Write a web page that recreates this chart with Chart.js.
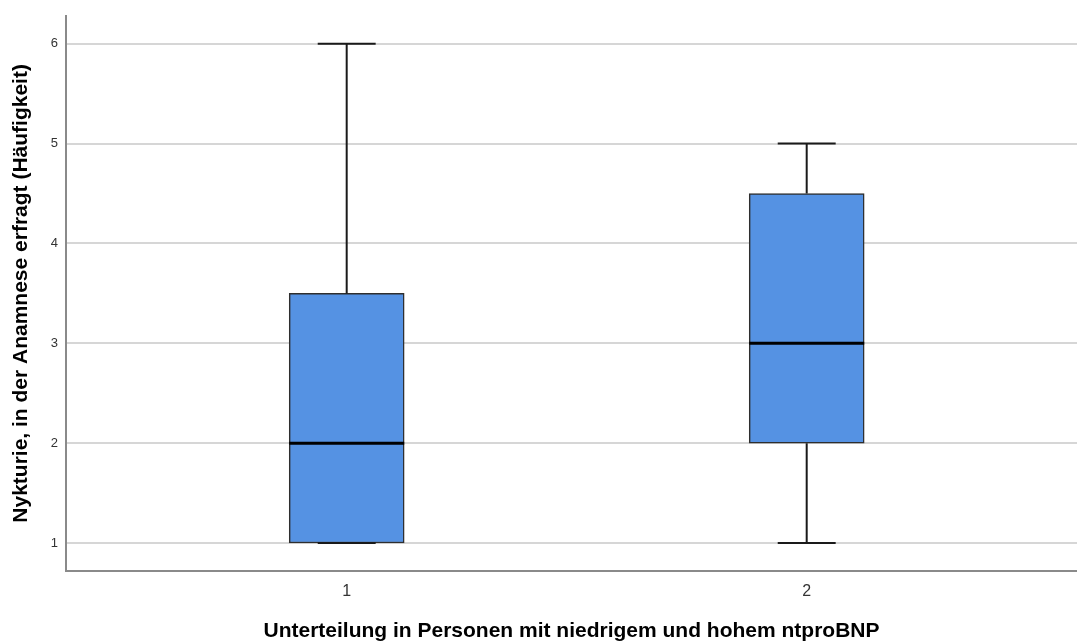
<!DOCTYPE html>
<html>
<head>
<meta charset="utf-8">
<title>Nykturie Boxplot</title>
<script src="https://cdn.jsdelivr.net/npm/chart.js@4"></script>
<style>
  html, body { margin: 0; padding: 0; background: #fff; }
  #wrap { width: 1077px; height: 644px; }
</style>
</head>
<body>
<div id="wrap"><canvas id="boxChart" width="1077" height="644"></canvas></div>
<script>
'use strict';

// groups (ntproBNP niedrig = 1, hoch = 2)
let groups = [1, 2];
let minVals = [1, 1];
let q1Vals = [1, 2];
let medianVals = [2, 3];
let q3Vals = [3.5, 4.5];
let maxVals = [6, 5];

let yTicks = [1, 2, 3, 4, 5, 6];

let xTitle = 'Unterteilung in Personen mit niedrigem und hohem ntproBNP';
let yTitle = 'Nykturie, in der Anamnese erfragt (Häufigkeit)';

// half widths in x units (460 px per unit)
let capHalf = 0.063;
let medHalf = 0.125;

function segments(fromArr, toArr) {
    let pts = [];
    for (let i = 0; i < groups.length; i++) {
        pts.push({ x: groups[i], y: fromArr[i] });
        pts.push({ x: groups[i], y: toArr[i] });
        pts.push({ x: groups[i], y: null });
    }
    return pts;
}

function hLines(valArr, half) {
    let pts = [];
    for (let i = 0; i < groups.length; i++) {
        pts.push({ x: groups[i] - half, y: valArr[i] });
        pts.push({ x: groups[i] + half, y: valArr[i] });
        pts.push({ x: groups[i], y: null });
    }
    return pts;
}

let boxData = groups.map((g, i) => ({ x: g, y: [q1Vals[i], q3Vals[i]] }));

let lineStyle = {
    type: 'line',
    borderColor: '#1a1a1a',
    borderWidth: 2,
    pointRadius: 0,
    spanGaps: false,
    fill: false
};

let ctx = document.getElementById('boxChart').getContext('2d');
let boxChart = new Chart(ctx, {
    type: 'bar',
    data: {
        datasets: [
            Object.assign({}, lineStyle, { label: 'Median', data: hLines(medianVals, medHalf), borderWidth: 3, borderColor: '#000', order: 1 }),
            Object.assign({}, lineStyle, { label: 'Whisker oben', data: segments(q3Vals, maxVals), order: 2 }),
            Object.assign({}, lineStyle, { label: 'Whisker unten', data: segments(minVals, q1Vals), order: 2 }),
            Object.assign({}, lineStyle, { label: 'Max', data: hLines(maxVals, capHalf), order: 2 }),
            Object.assign({}, lineStyle, { label: 'Min', data: hLines(minVals, capHalf), order: 2 }),
            {
                type: 'bar',
                label: 'Box',
                data: boxData,
                backgroundColor: '#5592e3',
                borderColor: '#2e2e2e',
                borderWidth: 1.5,
                borderSkipped: false,
                barThickness: 115,
                order: 3
            }
        ]
    },
    options: {
        responsive: false,
        animation: false,
        layout: { padding: { top: 15, right: 0, left: 0, bottom: 0 } },
        plugins: {
            legend: { display: false },
            tooltip: { enabled: false }
        },
        scales: {
            x: {
                type: 'linear',
                offset: false,
                min: 0.3898,
                max: 2.5876,
                afterFit: function (scale) { scale.height = 73; },
                afterBuildTicks: function (scale) { scale.ticks = groups.map(v => ({ value: v })); },
                grid: { display: false, drawTicks: false },
                border: { display: true, color: '#8a8a8a', width: 2 },
                ticks: {
                    padding: 11,
                    color: '#333',
                    font: { family: 'Liberation Sans, Arial, sans-serif', size: 16 },
                    callback: v => String(v)
                },
                title: {
                    display: true,
                    text: xTitle,
                    color: '#000',
                    padding: { top: 0, bottom: 0 },
                    font: { family: 'Liberation Sans, Arial, sans-serif', size: 21, weight: 'bold' }
                }
            },
            y: {
                min: 0.72,
                max: 6.28,
                afterFit: function (scale) { scale.width = 66; },
                afterBuildTicks: function (scale) { scale.ticks = yTicks.map(v => ({ value: v })); },
                grid: { color: '#d6d6d6', lineWidth: 2, drawTicks: false },
                border: { display: true, color: '#8a8a8a', width: 2 },
                ticks: {
                    padding: 8,
                    color: '#333',
                    font: { family: 'Liberation Sans, Arial, sans-serif', size: 13 },
                    callback: v => String(v)
                },
                title: {
                    display: true,
                    text: yTitle,
                    color: '#000',
                    padding: { top: 9, bottom: 0 },
                    font: { family: 'Liberation Sans, Arial, sans-serif', size: 21, weight: 'bold' }
                }
            }
        }
    }
});
</script>
</body>
</html>
